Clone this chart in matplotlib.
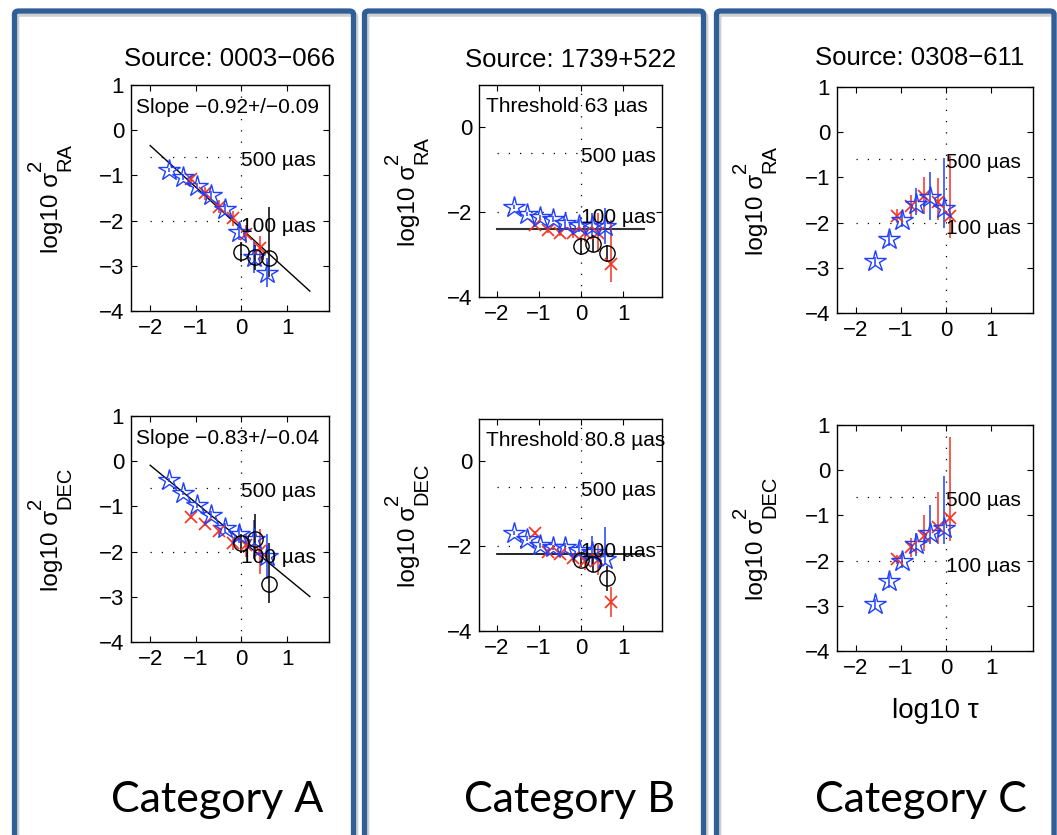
import math
import matplotlib
matplotlib.use("Agg")
import matplotlib.pyplot as plt
from matplotlib.patches import FancyBboxPatch
from matplotlib.transforms import IdentityTransform

plt.rcParams['font.family'] = ['Liberation Sans', 'DejaVu Sans']

W, H = 1057, 835

# log10 tau bins
tau_blue = [-1.58, -1.27, -0.97, -0.67, -0.37, -0.06, 0.27, 0.56]
tau_red = [-1.10, -0.79, -0.50, -0.19, 0.09, 0.40, 0.72]
tau_black = [0.00, 0.29, 0.61]

# Category A, source 0003-066
a_ra_blue = [-0.88, -1.04, -1.23, -1.43, -1.75, -2.25, -2.80, -3.15]
a_ra_blue_err = [0.05, 0.06, 0.07, 0.09, 0.12, 0.18, 0.35, 0.32]
a_ra_red = [-1.09, -1.40, -1.69, -1.95, -2.30, -2.61]
a_ra_red_err = [0.12, 0.15, 0.15, 0.17, 0.20, 0.28]
a_ra_black = [-2.69, -2.80, -2.83]
a_ra_black_err = [[0.22, 0.30, 0.42], [0.22, 0.25, 1.14]]
a_ra_slope = (-0.92, -2.18)

a_dec_blue = [-0.42, -0.70, -0.98, -1.18, -1.47, -1.62, -1.73, -2.10]
a_dec_blue_err = [0.04, 0.05, 0.06, 0.08, 0.10, 0.20, 0.44, 0.50]
a_dec_red = [-1.23, -1.38, -1.55, -1.82, -1.86, -1.99]
a_dec_red_err = [0.05, 0.06, 0.08, 0.15, 0.25, 0.50]
a_dec_black = [-1.82, -1.72, -2.72]
a_dec_black_err = [[0.20, 0.30, 0.41], [0.20, 0.55, 0.92]]
a_dec_slope = (-0.83, -1.75)

# Category B, source 1739+522
b_ra_blue = [-1.88, -2.04, -2.12, -2.17, -2.26, -2.31, -2.33, -2.33]
b_ra_blue_err = [0.04, 0.05, 0.06, 0.07, 0.10, 0.15, 0.30, 0.43]
b_ra_red = [-2.30, -2.42, -2.48, -2.50, -2.50, -2.48, -3.21]
b_ra_red_err = [[0.05, 0.06, 0.08, 0.10, 0.20, 0.45, 0.43],
                [0.05, 0.06, 0.08, 0.10, 0.20, 0.45, 1.03]]
b_ra_black = [-2.80, -2.74, -2.97]
b_ra_black_err = [0.20, 0.20, 0.20]
b_ra_threshold = 63

b_dec_blue = [-1.69, -1.82, -1.98, -2.03, -2.02, -2.08, -2.13, -2.31]
b_dec_blue_err = [[0.04, 0.05, 0.06, 0.07, 0.10, 0.15, 0.35, 0.12],
                  [0.04, 0.05, 0.06, 0.07, 0.10, 0.15, 0.38, 0.76]]
b_dec_red = [-1.69, -2.13, -2.19, -2.27, -2.35, -2.32, -3.31]
b_dec_red_err = [0.05, 0.06, 0.08, 0.10, 0.20, 0.35, 0.35]
b_dec_black = [-2.33, -2.41, -2.76]
b_dec_black_err = [0.15, 0.20, 0.30]
b_dec_threshold = 80.8

# Category C, source 0308-611
c_ra_blue = [-2.86, -2.36, -1.95, -1.58, -1.44, -1.68]
c_ra_blue_err = [[0.10, 0.15, 0.15, 0.25, 0.50, 0.44],
                 [0.10, 0.15, 0.20, 0.35, 0.55, 1.11]]
c_ra_red = [-1.86, -1.63, -1.42, -1.55, -1.86]
c_ra_red_err = [[0.15, 0.25, 0.38, 0.39, 0.48],
                [0.15, 0.25, 0.42, 0.53, 1.34]]

c_dec_blue = [-2.96, -2.45, -2.01, -1.64, -1.38, -1.27]
c_dec_blue_err = [[0.10, 0.15, 0.15, 0.25, 0.26, 0.37],
                  [0.10, 0.15, 0.15, 0.25, 0.62, 1.14]]
c_dec_red = [-1.97, -1.71, -1.46, -1.26, -1.05]
c_dec_red_err = [[0.10, 0.20, 0.33, 0.38, 0.52],
                 [0.10, 0.20, 0.47, 0.78, 1.78]]

sources = ["Source: 0003\u2212066", "Source: 1739+522", "Source: 0308\u2212611"]
categories = ["Category A", "Category B", "Category C"]

BLUE = '#1f3fff'
RED = '#f5301e'
FRAME = '#2f5f96'


def px_axes(fig, l, t, r, b):
    return fig.add_axes([l / W, 1 - b / H, (r - l) / W, (b - t) / H])


def series(ax, x, y, err, color, marker, ms, mew=1.0):
    ax.errorbar(x[:len(y)], y, yerr=err, fmt=marker, color=color, ms=ms,
                mfc='none', mec=color, mew=mew, elinewidth=1.1, capsize=0)


def base(ax, yticks):
    ax.set_xlim(-2.42, 1.92)
    ax.set_ylim(-4, 1)
    ax.set_xticks([-2, -1, 0, 1])
    ax.set_yticks(yticks)
    ax.tick_params(direction='in', top=True, right=True, length=4,
                   labelsize=16, pad=5)
    for s in ax.spines.values():
        s.set_linewidth(1.0)
    ax.axvline(0, color='k', ls=(0, (1, 8)), lw=0.9)
    for yv in (-0.6, -2.0):
        ax.plot([-2, 0], [yv, yv], color='k', ls=(0, (1, 8)), lw=0.9)
    ax.text(0.0, -0.68, "500 \u00b5as", fontsize=15, va='center', ha='left')
    ax.text(0.0, -2.12, "100 \u00b5as", fontsize=15, va='center', ha='left')


def ylabel_tex(fig, x_base, y_top, y_bot, sub):
    # matlab style label: log10 sigma^2_sub, scripts almost full size
    r = fig.canvas.get_renderer()
    kw = dict(rotation=90, rotation_mode='anchor', ha='left', va='baseline',
              transform=IdentityTransform())
    xb = x_base
    main = fig.text(xb, 0, "log10 \u03c3", fontsize=17.5, **kw)
    L1 = main.get_window_extent(r).height
    sup = fig.text(xb - 17, L1 + 1, "2", fontsize=14.5, **kw)
    sb = fig.text(xb + 12, L1 + 1, sub, fontsize=14.5, **kw)
    total = L1 + 1 + sb.get_window_extent(r).height
    yc = H - (y_top + y_bot) / 2
    y0 = yc - total / 2
    main.set_position((xb, y0))
    sup.set_position((xb - 17, y0 + L1 + 1))
    sb.set_position((xb + 12, y0 + L1 + 1))


fig = plt.figure(figsize=(W / 100, H / 100), dpi=100)

# frames
for l, r in [(14.5, 353.5), (364.5, 703.5), (716.5, 1054)]:
    shadow = FancyBboxPatch((l / W + 0.002, 1 - 845 / H), (r - l) / W, (845 - 14) / H,
                            boxstyle="round,pad=0,rounding_size=0.004",
                            transform=fig.transFigure, fc='none', ec='#d0d0d0',
                            lw=4, zorder=0)
    fig.patches.append(shadow)
    frame = FancyBboxPatch((l / W, 1 - 845 / H), (r - l) / W, (845 - 11) / H,
                           boxstyle="round,pad=0,rounding_size=0.004",
                           transform=fig.transFigure, fc='none', ec=FRAME,
                           lw=3.8, zorder=1)
    fig.patches.append(frame)

for txt, xc in zip(categories, [217, 570, 921]):
    fig.text(xc / W, 1 - 800 / H, txt, fontsize=31, family='Lato',
             ha='center', va='center')

# ---- Category A ----
ax = px_axes(fig, 131, 85, 329, 311)
base(ax, [-4, -3, -2, -1, 0, 1])
ax.plot([-2, 1.5], [a_ra_slope[1] - 2 * a_ra_slope[0], a_ra_slope[1] + 1.5 * a_ra_slope[0]],
        color='k', lw=1.0)
series(ax, tau_red, a_ra_red, a_ra_red_err, RED, 'x', 9, 1.2)
series(ax, tau_blue, a_ra_blue, a_ra_blue_err, BLUE, '*', 16)
series(ax, tau_black, a_ra_black, a_ra_black_err, 'k', 'o', 11)
ax.text(-2.3, 0.5, "Slope \u22120.92+/\u22120.09", fontsize=15, va='center')
ax.text(0.5, 1.06, sources[0], transform=ax.transAxes, fontsize=18.5,
        ha='center', va='bottom')
ylabel_tex(fig, 58, 85, 311, "RA")

ax = px_axes(fig, 131, 416, 329, 642)
base(ax, [-4, -3, -2, -1, 0, 1])
ax.plot([-2, 1.5], [a_dec_slope[1] - 2 * a_dec_slope[0], a_dec_slope[1] + 1.5 * a_dec_slope[0]],
        color='k', lw=1.0)
series(ax, tau_red, a_dec_red, a_dec_red_err, RED, 'x', 9, 1.2)
series(ax, tau_blue, a_dec_blue, a_dec_blue_err, BLUE, '*', 16)
series(ax, tau_black, a_dec_black, a_dec_black_err, 'k', 'o', 11)
ax.text(-2.3, 0.5, "Slope \u22120.83+/\u22120.04", fontsize=15, va='center')
ylabel_tex(fig, 58, 416, 642, "DEC")

# ---- Category B ----
ax = px_axes(fig, 479, 85, 662, 297)
base(ax, [-4, -2, 0])
thr = 2 * math.log10(b_ra_threshold / 1000)
ax.plot([-2, 1.5], [thr, thr], color='#333333', lw=1.5)
series(ax, tau_red, b_ra_red, b_ra_red_err, RED, 'x', 9, 1.2)
series(ax, tau_blue, b_ra_blue, b_ra_blue_err, BLUE, '*', 16)
series(ax, tau_black, b_ra_black, b_ra_black_err, 'k', 'o', 11)
ax.text(-2.26, 0.5, "Threshold 63 \u00b5as", fontsize=15, va='center')
ax.text(0.5, 1.06, sources[1], transform=ax.transAxes, fontsize=18.5,
        ha='center', va='bottom')
ylabel_tex(fig, 415, 85, 297, "RA")

ax = px_axes(fig, 479, 419, 662, 631)
base(ax, [-4, -2, 0])
thr = 2 * math.log10(b_dec_threshold / 1000)
ax.plot([-2, 1.5], [thr, thr], color='k', lw=1.2)
series(ax, tau_red, b_dec_red, b_dec_red_err, RED, 'x', 9, 1.2)
series(ax, tau_blue, b_dec_blue, b_dec_blue_err, BLUE, '*', 16)
series(ax, tau_black, b_dec_black, b_dec_black_err, 'k', 'o', 11)
ax.text(-2.26, 0.5, "Threshold 80.8 \u00b5as", fontsize=15, va='center')
ylabel_tex(fig, 415, 419, 631, "DEC")

# ---- Category C ----
ax = px_axes(fig, 837, 87, 1033, 313)
base(ax, [-4, -3, -2, -1, 0, 1])
series(ax, tau_red, c_ra_red, c_ra_red_err, RED, 'x', 9, 1.2)
series(ax, tau_blue, c_ra_blue, c_ra_blue_err, BLUE, '*', 16)
ax.text(0.42, 1.075, sources[2], transform=ax.transAxes, fontsize=18.5,
        ha='center', va='bottom')
ylabel_tex(fig, 763, 87, 313, "RA")

ax = px_axes(fig, 837, 425, 1033, 651)
base(ax, [-4, -3, -2, -1, 0, 1])
series(ax, tau_red, c_dec_red, c_dec_red_err, RED, 'x', 9, 1.2)
series(ax, tau_blue, c_dec_blue, c_dec_blue_err, BLUE, '*', 16)
ax.set_xlabel("log10 \u03c4", fontsize=20, labelpad=14)
ylabel_tex(fig, 763, 425, 651, "DEC")

fig.savefig("out.png", dpi=100)
